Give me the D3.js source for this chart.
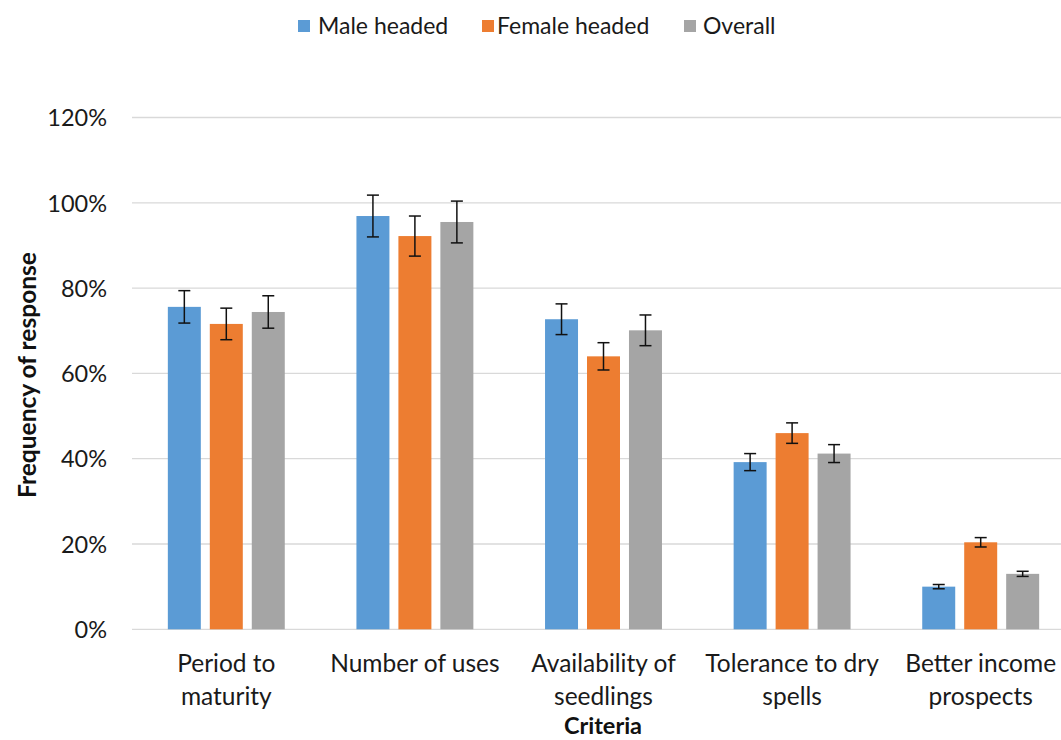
<!DOCTYPE html>
<html>
<head>
<meta charset="utf-8">
<script src="https://cdn.jsdelivr.net/npm/d3@7"></script>
<style>
  html, body { margin: 0; padding: 0; background: #fff; }
  svg { display: block; font-family: Lato, "Open Sans", sans-serif; }
</style>
</head>
<body>
<svg id="chart" width="1061" height="740"></svg>
<script>
const categories = ["Period to maturity", "Number of uses", "Availability of seedlings", "Tolerance to dry spells", "Better income prospects"];
const categoryLines = [["Period to", "maturity"], ["Number of uses"], ["Availability of", "seedlings"], ["Tolerance to dry", "spells"], ["Better income", "prospects"]];
const seriesNames = ["Male headed", "Female headed", "Overall"];
const maleValues = [75.6, 96.9, 72.7, 39.2, 10.0];
const femaleValues = [71.6, 92.2, 64.0, 46.0, 20.4];
const overallValues = [74.4, 95.5, 70.1, 41.2, 13.0];
const maleErrors = [3.8, 4.9, 3.6, 2.0, 0.5];
const femaleErrors = [3.7, 4.7, 3.2, 2.4, 1.1];
const overallErrors = [3.8, 4.9, 3.6, 2.1, 0.6];
const yTicks = [0, 20, 40, 60, 80, 100, 120];
const colors = ["#5B9BD5", "#ED7D31", "#A5A5A5"];

const values = [maleValues, femaleValues, overallValues];
const errors = [maleErrors, femaleErrors, overallErrors];

const svg = d3.select("#chart");
const plotLeft = 132, plotRight = 1075, plotTop = 117.5, plotBottom = 629.3;

const x0 = d3.scaleBand().domain(categories).range([plotLeft, plotRight]).paddingInner(0.38).paddingOuter(0.19);
const x1 = d3.scaleBand().domain(seriesNames).range([0, x0.bandwidth()]).paddingInner(0.214).paddingOuter(0);
const y = d3.scaleLinear().domain([0, 120]).range([plotBottom, plotTop]);

// gridlines
svg.append("g").selectAll("line").data(yTicks).join("line")
  .attr("x1", plotLeft).attr("x2", 1061)
  .attr("y1", d => y(d)).attr("y2", d => y(d))
  .attr("stroke", "#D9D9D9").attr("stroke-width", 1.3);

// y tick labels
const yAxis = d3.axisLeft(y).tickValues(yTicks).tickFormat(d => d + "%").tickSize(0).tickPadding(0);
const yg = svg.append("g").attr("transform", `translate(107,0)`).call(yAxis);
yg.select(".domain").remove();
yg.selectAll("text").attr("font-size", 23.5).attr("fill", "#1a1a1a").attr("font-family", "Lato, sans-serif").attr("dy", "0.35em");

// bars
const data = [];
categories.forEach((c, i) => seriesNames.forEach((s, j) => data.push({c, s, j, v: values[j][i], e: errors[j][i]})));

svg.append("g").selectAll("rect").data(data).join("rect")
  .attr("x", d => x0(d.c) + x1(d.s))
  .attr("y", d => y(d.v))
  .attr("width", x1.bandwidth())
  .attr("height", d => y(0) - y(d.v))
  .attr("fill", d => colors[d.j]);

// error bars
const eg = svg.append("g").attr("stroke", "#111").attr("stroke-width", 1.5);
data.forEach(d => {
  const cx = x0(d.c) + x1(d.s) + x1.bandwidth() / 2;
  eg.append("line").attr("x1", cx).attr("x2", cx).attr("y1", y(d.v + d.e)).attr("y2", y(d.v - d.e));
  eg.append("line").attr("x1", cx - 6).attr("x2", cx + 6).attr("y1", y(d.v + d.e)).attr("y2", y(d.v + d.e));
  eg.append("line").attr("x1", cx - 6).attr("x2", cx + 6).attr("y1", y(d.v - d.e)).attr("y2", y(d.v - d.e));
});

// x category labels
const xg = svg.append("g");
categories.forEach((c, i) => {
  const cx = x0(c) + x0.bandwidth() / 2;
  const t = xg.append("text").attr("x", cx).attr("y", 672).attr("text-anchor", "middle")
    .attr("font-size", 24.5).attr("fill", "#1a1a1a");
  categoryLines[i].forEach((ln, k) => {
    t.append("tspan").attr("x", cx).attr("dy", k === 0 ? 0 : 33).text(ln);
  });
});

// axis titles
svg.append("text").attr("x", 603).attr("y", 734).attr("text-anchor", "middle")
  .attr("font-size", 23.5).attr("font-weight", "bold").attr("fill", "#111").text("Criteria");
svg.append("text").attr("transform", "translate(36,375) rotate(-90)").attr("text-anchor", "middle")
  .attr("font-size", 24.5).attr("font-weight", "bold").attr("fill", "#111").text("Frequency of response");

// legend
const legendItems = [{x: 298, tx: 318}, {x: 482, tx: 497}, {x: 684, tx: 703}];
const lg = svg.append("g");
seriesNames.forEach((s, j) => {
  lg.append("rect").attr("x", legendItems[j].x).attr("y", 20).attr("width", 12).attr("height", 12).attr("fill", colors[j]);
  lg.append("text").attr("x", legendItems[j].tx).attr("y", 26).attr("dy", "0.35em")
    .attr("font-size", 23).attr("fill", "#1a1a1a").text(s);
});
</script>
</body>
</html>
